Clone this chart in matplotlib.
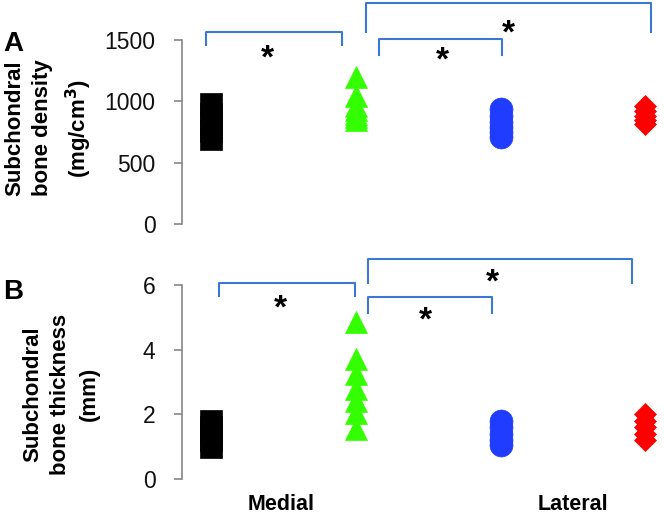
import matplotlib
matplotlib.use('Agg')
import matplotlib.pyplot as plt

plt.rcParams['font.family'] = ['Liberation Sans', 'DejaVu Sans']

# Data
# --------------
groups_x = [1, 2, 3, 4]
colors = ['#000000', '#33ff00', '#1f3cff', '#ff0000']
markers = ['s', '^', 'o', 'D']

density = [
    [975, 900, 825, 760, 697],               # medial, control
    [1200, 1040, 960, 930, 900, 870, 850],   # medial, OA
    [940, 880, 830, 790, 750, 713],          # lateral, control
    [960, 920, 880, 850, 815],               # lateral, OA
]
thickness = [
    [1.8, 1.6, 1.4, 1.2, 1.0],
    [4.87, 3.70, 3.24, 2.77, 2.40, 2.03, 1.56],
    [1.8, 1.6, 1.4, 1.2, 1.05],
    [2.0, 1.8, 1.6, 1.4, 1.2],
]

# brackets: (x_left, x_right, y_top, y_left_leg, y_right_leg, x_star, y_star)
brackets_A = [
    (0.965, 1.90, 1565, 1459, 1459, 1.39, 1435),
    (2.07, 4.04, 1799, 1565, 1565, 3.05, 1639),
    (2.16, 3.01, 1508, 1378, 1378, 2.60, 1418),
]
brackets_B = [
    (1.05, 1.99, 6.06, 5.66, 5.66, 1.48, 5.60),
    (2.08, 3.91, 6.80, 6.06, 6.06, 2.94, 6.40),
    (2.08, 2.94, 5.63, 5.13, 5.13, 2.48, 5.23),
]

ms_sizes = [16.5, 16.5, 16.5, 11.3]
bracket_col = '#3a78d4'
spine_col = '#868686'

fig = plt.figure(figsize=(6.64, 5.21), dpi=100)
axA = fig.add_axes([182/664, 1-224/521, 482/664, 184/521])
axB = fig.add_axes([182/664, 1-479/521, 482/664, 194/521])


def style_axis(ax, ylim, yticks):
    ax.set_xlim(0.797, 4.128)
    ax.set_ylim(*ylim)
    ax.set_yticks(yticks)
    for s in ['top', 'right', 'bottom']:
        ax.spines[s].set_visible(False)
    ax.spines['left'].set_color(spine_col)
    ax.spines['left'].set_linewidth(1.2)
    ax.set_xticks([])
    ax.tick_params(axis='y', direction='out', length=6, width=1.2,
                   color=spine_col, labelsize=16.5, pad=13, labelcolor='#111111')
    ax.patch.set_alpha(0)


def draw_groups(ax, data):
    for x, vals, c, m, ms in zip(groups_x, data, colors, markers, ms_sizes):
        ax.plot([x]*len(vals), vals, linestyle='none', marker=m, ms=ms,
                color=c, mec=c, mew=0.5, clip_on=False)


def draw_brackets(ax, brackets):
    for xl, xr, yt, yl, yr, xs, ys in brackets:
        ax.plot([xl, xl, xr, xr], [yl, yt, yt, yr], color=bracket_col,
                lw=1.5, clip_on=False)
        ax.annotate('*', xy=(xs, ys), xytext=(0, -14), textcoords='offset points',
                    ha='center', va='baseline', fontsize=24, fontweight='bold',
                    annotation_clip=False)


style_axis(axA, (0, 1500), [0, 500, 1000, 1500])
draw_groups(axA, density)
draw_brackets(axA, brackets_A)

style_axis(axB, (0, 6), [0, 2, 4, 6])
draw_groups(axB, thickness)
draw_brackets(axB, brackets_B)

# labels
fig.text(49/664, 1-128/521, 'Subchondral\nbone density\n(mg/cm$^\\mathbf{3}$)', rotation=90,
         ha='center', va='center', multialignment='center', fontsize=16,
         fontweight='bold', linespacing=1.45)
fig.text(61/664, 1-394/521, 'Subchondral\nbone thickness\n(mm)', rotation=90,
         ha='center', va='center', multialignment='center', fontsize=16,
         fontweight='bold', linespacing=1.45)
fig.text(3/664, 1-51/521, 'A', fontsize=20, fontweight='bold', ha='left', va='baseline')
fig.text(3/664, 1-299/521, 'B', fontsize=20, fontweight='bold', ha='left', va='baseline')

axB.text(1.48, -0.8, 'Medial', ha='center', va='center', fontsize=15.5, fontweight='bold')
axB.text(3.50, -0.8, 'Lateral', ha='center', va='center', fontsize=15.5, fontweight='bold')

fig.savefig('out.png', dpi=100)
